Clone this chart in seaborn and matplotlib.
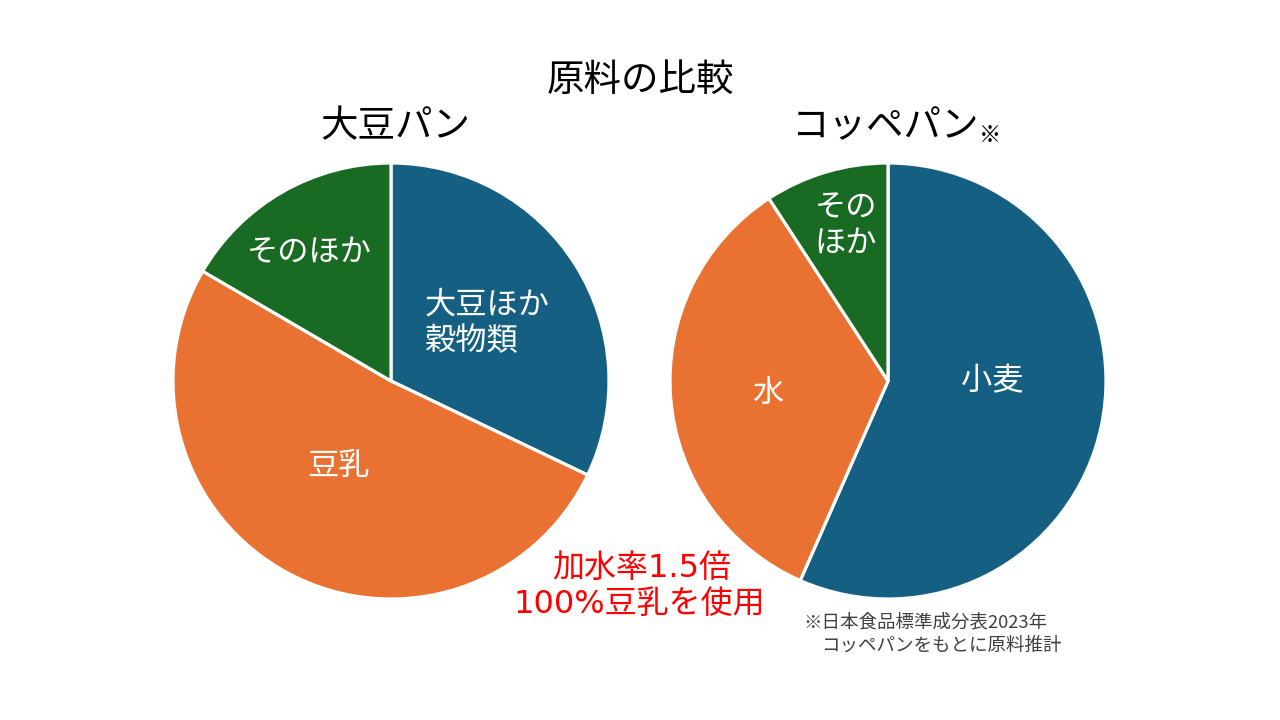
import matplotlib
matplotlib.use("Agg")
import matplotlib.pyplot as plt
import seaborn as sns

sns.set_theme(style="white")
plt.rcParams['font.family'] = ['Noto Sans CJK JP', 'DejaVu Sans']

# Data
soy_labels = ["大豆ほか\n穀物類", "豆乳", "そのほか"]
soy_values = [32.1, 51.3, 16.6]
koppe_labels = ["小麦", "水", "その\nほか"]
koppe_values = [56.6, 34.2, 9.2]
colors = ["#156082", "#E97132", "#196B24"]

W, H = 1280, 720
fig = plt.figure(figsize=(12.8, 7.2), dpi=100)
fig.patch.set_facecolor("white")

def pie_axes(cx, cy, r):
    return fig.add_axes([(cx - r) / W, (H - cy - r) / H, 2 * r / W, 2 * r / H])

def draw(ax, values):
    wedges, _ = ax.pie(values, colors=colors, startangle=90, counterclock=False,
                       wedgeprops=dict(edgecolor="white", linewidth=2.3))
    for w in wedges:
        w.set_clip_on(False)
    ax.set_xlim(-1, 1)
    ax.set_ylim(-1, 1)
    ax.set_aspect("equal")
    ax.axis("off")

axL = pie_axes(391, 381, 218)
draw(axL, soy_values)
axR = pie_axes(888, 381, 218)
draw(axR, koppe_values)

def px(x, y):
    return x / W, 1 - y / H

lab = dict(color="white", fontsize=22.5)
fig.text(*px(425, 323), soy_labels[0], ha="left", va="center", linespacing=1.2, **lab)
fig.text(*px(339, 466), soy_labels[1], ha="center", va="center", **lab)
fig.text(*px(309, 252), soy_labels[2], ha="center", va="center", **lab)

fig.text(*px(992, 381), koppe_labels[0], ha="center", va="center", **lab)
fig.text(*px(768, 393), koppe_labels[1], ha="center", va="center", **lab)
fig.text(*px(846, 225), koppe_labels[2], ha="center", va="center", linespacing=1.15, **lab)

fig.text(*px(640, 80), "原料の比較", ha="center", va="center", fontsize=27, color="black")
fig.text(*px(395, 127), "大豆パン", ha="center", va="center", fontsize=27, color="black")
fig.text(*px(885, 127), "コッペパン", ha="center", va="center", fontsize=27, color="black")
fig.text(*px(990, 136), "※", ha="center", va="center", fontsize=16, color="black")

mixed = ['DejaVu Sans', 'Noto Sans CJK JP']
fig.text(*px(642, 568), "加水率1.5倍", ha="center", va="center", fontsize=23,
         color="#FF0000", family=mixed)
fig.text(*px(639, 605), "100%豆乳を使用", ha="center", va="center", fontsize=23,
         color="#FF0000", family=mixed)

fig.text(*px(803, 622), "※日本食品標準成分表2023年", ha="left", va="center", fontsize=13.3, color="#404040")
fig.text(*px(821, 646), "コッペパンをもとに原料推計", ha="left", va="center", fontsize=13.3, color="#404040")

fig.savefig("out.png", dpi=100, facecolor="white")
